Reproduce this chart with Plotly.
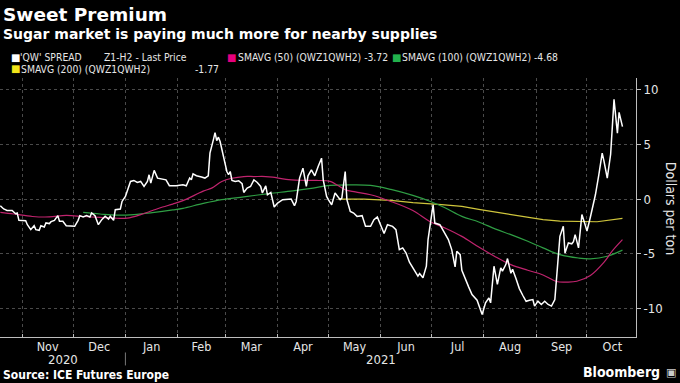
import plotly.graph_objects as go
import pandas as pd

# ---------------- data ----------------
spread_dates = [
    "2020-10-19", "2020-10-21", "2020-10-23", "2020-10-26", "2020-10-28", "2020-10-29", "2020-10-30",
    "2020-11-01", "2020-11-03", "2020-11-04", "2020-11-06", "2020-11-08", "2020-11-09", "2020-11-11",
    "2020-11-12", "2020-11-14", "2020-11-15", "2020-11-17", "2020-11-18", "2020-11-20", "2020-11-22",
    "2020-11-23", "2020-11-25", "2020-11-27", "2020-11-30",
    "2020-12-02", "2020-12-04", "2020-12-05", "2020-12-07", "2020-12-09", "2020-12-11", "2020-12-12",
    "2020-12-14", "2020-12-16", "2020-12-18", "2020-12-20", "2020-12-22", "2020-12-23", "2020-12-25",
    "2020-12-26", "2020-12-29", "2020-12-30",
    "2021-01-01", "2021-01-04", "2021-01-06", "2021-01-08", "2021-01-10", "2021-01-12", "2021-01-14",
    "2021-01-15", "2021-01-16", "2021-01-18", "2021-01-20", "2021-01-23", "2021-01-25", "2021-01-27",
    "2021-01-31",
    "2021-02-04", "2021-02-06", "2021-02-08", "2021-02-09", "2021-02-10", "2021-02-12", "2021-02-15",
    "2021-02-17", "2021-02-19", "2021-02-20", "2021-02-22", "2021-02-23", "2021-02-24", "2021-02-25",
    "2021-02-26", "2021-02-28",
    "2021-03-02", "2021-03-03", "2021-03-04", "2021-03-05", "2021-03-07", "2021-03-09", "2021-03-11",
    "2021-03-12", "2021-03-14", "2021-03-16", "2021-03-18", "2021-03-20", "2021-03-22", "2021-03-23",
    "2021-03-25", "2021-03-26", "2021-03-28", "2021-03-30",
    "2021-04-01", "2021-04-04", "2021-04-07", "2021-04-09", "2021-04-11", "2021-04-12", "2021-04-14",
    "2021-04-16", "2021-04-18", "2021-04-19", "2021-04-21", "2021-04-23", "2021-04-25", "2021-04-27",
    "2021-04-28", "2021-04-30",
    "2021-05-01", "2021-05-03", "2021-05-05", "2021-05-08", "2021-05-09", "2021-05-11", "2021-05-12",
    "2021-05-14", "2021-05-16", "2021-05-18", "2021-05-21", "2021-05-23", "2021-05-26", "2021-05-28",
    "2021-05-30",
    "2021-06-01", "2021-06-03", "2021-06-05", "2021-06-08", "2021-06-10", "2021-06-12", "2021-06-14",
    "2021-06-16", "2021-06-18", "2021-06-20", "2021-06-23", "2021-06-24", "2021-06-26", "2021-06-28",
    "2021-06-29",
    "2021-07-02", "2021-07-03", "2021-07-06", "2021-07-09", "2021-07-11", "2021-07-13", "2021-07-15",
    "2021-07-16", "2021-07-18", "2021-07-19", "2021-07-21", "2021-07-23", "2021-07-25", "2021-07-28",
    "2021-07-31",
    "2021-08-02", "2021-08-04", "2021-08-05", "2021-08-07", "2021-08-09", "2021-08-11", "2021-08-12",
    "2021-08-14", "2021-08-15", "2021-08-17", "2021-08-18", "2021-08-20", "2021-08-22", "2021-08-24",
    "2021-08-26", "2021-08-28", "2021-08-30", "2021-08-31",
    "2021-09-02", "2021-09-04", "2021-09-06", "2021-09-08", "2021-09-10", "2021-09-12", "2021-09-13",
    "2021-09-15", "2021-09-17", "2021-09-18", "2021-09-20", "2021-09-22", "2021-09-23", "2021-09-24",
    "2021-09-26", "2021-09-27", "2021-09-28", "2021-09-30",
    "2021-10-01", "2021-10-03", "2021-10-04", "2021-10-06", "2021-10-08", "2021-10-10", "2021-10-11",
    "2021-10-13", "2021-10-15", "2021-10-16", "2021-10-17", "2021-10-19", "2021-10-20", "2021-10-22",
]
spread_values = [
    -0.61, -0.91, -1.04, -1.04, -1.34, -1.28, -1.95,
    -1.98, -1.98, -2.35, -2.80, -2.44, -2.80, -2.86,
    -2.44, -2.56, -2.19, -2.25, -2.07, -1.95, -1.52,
    -2.04, -2.04, -2.44, -2.50,
    -2.50, -1.95, -1.52, -1.64, -1.52, -1.64, -1.28,
    -1.52, -2.35, -1.89, -1.58, -1.83, -1.58, -1.95,
    -0.98, -0.91, -0.22,
    0.24, 1.61, 1.70, 1.52, 1.61, 1.15, 1.61,
    2.22, 1.46, 2.62, 1.91, 1.83, 1.76, 1.22,
    1.22,
    1.31, 1.21, 1.92, 1.76, 2.31, 2.13, 2.01,
    1.92, 2.13, 4.20, 5.42, 6.08, 5.35, 5.66,
    5.26, 3.74,
    2.52, 2.22, 2.52, 1.70, 1.61, 1.67, 1.40,
    0.60, 1.00, 1.15, 1.76, 1.52, 1.15, 0.55,
    1.21, 0.39, 0.60, -0.73,
    -0.37, -0.06, -0.06, 0.00, -0.61, -0.22, 1.92,
    2.83, 1.15, 2.13, 2.68, 2.13, 2.98, 3.74,
    1.76, 0.24,
    -0.06, -0.52, 0.55, -0.06, 0.09, 2.52, -0.06,
    -1.13, -1.28, -1.59, -1.52, -2.49, -2.49, -1.89,
    -1.64,
    -2.49, -3.16, -2.35, -2.50, -2.80, -4.63, -4.47,
    -4.94, -5.78, -6.30, -7.06, -6.82, -7.21, -6.15,
    -3.71,
    -0.52, -2.20, -2.35, -3.10, -3.71, -4.63, -6.21,
    -4.78, -5.09, -6.52, -7.37, -8.04, -8.74, -9.26,
    -10.57,
    -9.50, -9.05, -9.50, -6.15, -7.82, -6.30, -6.60,
    -6.00, -5.45, -6.80, -6.42, -7.28, -8.20, -8.81,
    -9.36, -9.27, -9.20, -9.80,
    -9.35, -9.65, -9.35, -9.65, -9.80, -9.20, -7.07,
    -3.41, -2.49, -4.93, -4.02, -4.10, -3.90, -3.26,
    -4.47, -3.11, -1.42, -2.40,
    -2.93, -1.67, -0.98, 0.39, 2.22, 4.20, 3.52,
    1.92, 4.10, 7.30, 9.12, 6.03, 7.93, 6.63,
]

sma50_dates = [
    "2020-10-19", "2020-10-27", "2020-11-07", "2020-11-17", "2020-11-27", "2020-12-07", "2020-12-17",
    "2020-12-27", "2021-01-02", "2021-01-10", "2021-01-17", "2021-01-23", "2021-01-29", "2021-02-04",
    "2021-02-16", "2021-02-21", "2021-02-27", "2021-03-05", "2021-03-12", "2021-03-18", "2021-03-25",
    "2021-03-29", "2021-04-06", "2021-04-14", "2021-04-24", "2021-05-02", "2021-05-11", "2021-05-17",
    "2021-05-26", "2021-06-07", "2021-06-20", "2021-06-30", "2021-07-09", "2021-07-19", "2021-07-29",
    "2021-08-08", "2021-08-17", "2021-08-27", "2021-09-05", "2021-09-13", "2021-09-19", "2021-09-25",
    "2021-10-03", "2021-10-11", "2021-10-16", "2021-10-22",
]
sma50_values = [
    -1.22, -1.37, -1.60, -1.64, -1.50, -1.60, -1.68,
    -1.76, -1.75, -1.43, -1.05, -0.73, -0.46, -0.15,
    0.72, 1.00, 1.61, 1.90, 2.06, 2.06, 2.06,
    2.01, 1.80, 1.72, 1.70, 1.62, 0.85, 0.65,
    0.39, -0.22, -1.05, -2.05, -2.65, -3.42, -4.40,
    -5.30, -6.00, -6.52, -6.95, -7.55, -7.60, -7.53,
    -7.00, -5.80, -4.75, -3.72,
]

sma100_dates = [
    "2020-12-07", "2020-12-17", "2020-12-27", "2021-01-06", "2021-01-17", "2021-01-29", "2021-02-04",
    "2021-02-16", "2021-02-27", "2021-03-12", "2021-03-27", "2021-04-10", "2021-04-22", "2021-05-02",
    "2021-05-15", "2021-05-26", "2021-06-07", "2021-06-20", "2021-06-30", "2021-07-09", "2021-07-19",
    "2021-07-29", "2021-08-08", "2021-08-17", "2021-08-27", "2021-09-05", "2021-09-15", "2021-09-26",
    "2021-10-03", "2021-10-13", "2021-10-22",
]
sma100_values = [
    -1.22, -1.37, -1.48, -1.43, -1.25, -1.00, -0.85,
    -0.40, -0.05, 0.20, 0.50, 0.75, 1.00, 1.25,
    1.30, 1.25, 0.88, 0.33, -0.20, -0.80, -1.59,
    -2.10, -2.75, -3.26, -3.87, -4.47, -5.09, -5.40,
    -5.47, -5.24, -4.68,
]

sma200_dates = [
    "2021-05-07", "2021-05-22", "2021-06-07", "2021-06-20", "2021-07-07", "2021-07-19", "2021-07-29",
    "2021-08-17", "2021-09-05", "2021-09-15", "2021-09-26", "2021-10-07", "2021-10-22",
]
sma200_values = [
    0.00, 0.00, -0.12, -0.33, -0.52, -0.67, -0.95,
    -1.40, -1.89, -2.03, -2.08, -2.08, -1.77,
]

y_tick_values = [-10, -5, 0, 5, 10]
y_tick_labels = ["-10", "-5", "0", "5", "10"]
y_range = [-12.63, 11.08]
x_range = ["2020-10-18 19:30", "2021-10-30 00:00"]
year_break = "2021-01-01"

legend_items = [
    # (label, value text, square colour)
    ("'QW' SPREAD", "Z1-H2 - Last Price", "#ffffff"),
    ("SMAVG (50) (QWZ1QWH2) -3.72", "", "#e6007e"),
    ("SMAVG (100) (QWZ1QWH2) -4.68", "", "#22b24c"),
    ("SMAVG (200) (QWZ1QWH2)", "-1.77", "#f0e41a"),
]

# ---------------- styling ----------------
BG = "#000000"
TXT = "#e6e6e6"
GRID = "#4a4a4a"
AXIS = "#bdbdbd"
NARROW = "Liberation Sans Narrow, DejaVu Sans Condensed, Roboto, sans-serif"
BOLD = "DejaVu Sans, sans-serif"

fig = go.Figure()
fig.add_trace(go.Scatter(x=sma200_dates, y=sma200_values, mode="lines",
                         line=dict(color="#cfc53c", width=1.2), hoverinfo="skip"))
fig.add_trace(go.Scatter(x=sma100_dates, y=sma100_values, mode="lines", line_shape="spline",
                         line=dict(color="#2f9e44", width=1.2), hoverinfo="skip"))
fig.add_trace(go.Scatter(x=sma50_dates, y=sma50_values, mode="lines", line_shape="spline",
                         line=dict(color="#c0246e", width=1.2), hoverinfo="skip"))
fig.add_trace(go.Scatter(x=spread_dates, y=spread_values, mode="lines",
                         line=dict(color="#ffffff", width=1.5)))

PLOT_TOP, PLOT_BOTTOM, PLOT_W = 78, 337.5, 636
def py(p):  # pixel row -> paper y
    return (PLOT_BOTTOM - p) / (PLOT_BOTTOM - PLOT_TOP)
def px(p):  # pixel column -> paper x
    return p / PLOT_W

ann = []
ann.append(dict(text="<b>Sweet Premium</b>", x=px(1), y=py(14.5), font=dict(size=18.5, color="#ffffff", family=BOLD)))
ann.append(dict(text="<b>Sugar market is paying much more for nearby supplies</b>", x=px(1), y=py(34),
                font=dict(size=14, color="#ffffff", family=BOLD)))

# legend rows
leg_pos = [(10.7, 57, 18.3, 101.7), (226.7, 57, 235.5, None), (391.0, 57, 400.0, None), (10.7, 68.7, 19.3, 192.7)]
for (label, val, col), (sx, sy, tx, vx) in zip(legend_items, leg_pos):
    ann.append(dict(text="■", x=px(sx - 1.5), y=py(sy), font=dict(size=10, color=col, family="DejaVu Sans")))
    ann.append(dict(text=label, x=px(tx), y=py(sy), font=dict(size=10.3, color=TXT, family=NARROW)))
    if val:
        ann.append(dict(text=val, x=px(vx), y=py(sy), font=dict(size=10.3, color=TXT, family=NARROW)))

# year labels centred in their visible spans
r0, r1, yb = pd.Timestamp(x_range[0]), pd.Timestamp(x_range[1]), pd.Timestamp(year_break)
for lab, a, b in [("2020", r0, yb), ("2021", yb, r1)]:
    mid = a + (b - a) / 2
    ann.append(dict(text=lab, x=mid.strftime("%Y-%m-%d %H:%M"), xref="x", y=py(360), xanchor="center",
                    font=dict(size=13, color=TXT, family=NARROW)))

ann.append(dict(text="<b>Source: ICE Futures Europe</b>", x=px(1), y=py(376),
                font=dict(size=12, color="#ffffff", family=NARROW)))
ann.append(dict(text="<b>Bloomberg</b>", x=px(662), y=py(373), xanchor="right",
                font=dict(size=14, color="#ffffff", family=NARROW)))
ann.append(dict(text="▣", x=px(664), y=py(373), font=dict(size=11, color="#cccccc", family="DejaVu Sans")))
ann.append(dict(text="Dollars per ton", x=px(671), y=py(208), xanchor="center", textangle=90,
                font=dict(size=14, color=TXT, family=NARROW)))

for a in ann:
    a.setdefault("xref", "paper")
    a["yref"] = "paper"
    a.setdefault("xanchor", "left")
    a["yanchor"] = "middle"
    a["showarrow"] = False
fig.update_layout(annotations=ann)

fig.add_shape(type="line", xref="x", yref="paper", x0=year_break, x1=year_break,
              y0=py(353), y1=py(366), line=dict(color="#777777", width=1))

fig.update_layout(
    width=680, height=383,
    margin=dict(l=0, r=680 - PLOT_W, t=PLOT_TOP, b=383 - PLOT_BOTTOM),
    paper_bgcolor=BG, plot_bgcolor=BG,
    showlegend=False,
    xaxis=dict(type="date", range=x_range, dtick="M1", tick0="2020-11-01", tickformat="%b",
               ticklabelmode="period", showgrid=True, gridcolor=GRID, griddash="dot", gridwidth=1,
               showline=True, linecolor=AXIS, linewidth=1, ticks="inside", ticklen=3, tickcolor=AXIS,
               ticklabelstandoff=-2,
               tickfont=dict(size=12.5, color=TXT, family=NARROW), zeroline=False),
    yaxis=dict(side="right", range=y_range, tickvals=y_tick_values, ticktext=y_tick_labels,
               showgrid=True, gridcolor=GRID, griddash="dot", gridwidth=1,
               showline=True, linecolor=AXIS, linewidth=1, ticks="outside", ticklen=4, tickcolor=AXIS,
               tickfont=dict(size=13, color=TXT, family=NARROW), zeroline=False),
)

fig.write_html("out.html", config={"displayModeBar": False},
               post_script="document.body.style.margin='0';document.body.style.background='#000';")
